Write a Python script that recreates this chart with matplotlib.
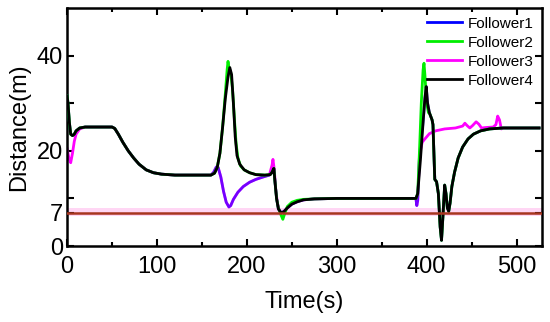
import matplotlib
matplotlib.use('Agg')
import matplotlib.pyplot as plt
import numpy as np

plt.rcParams['font.family'] = ['Liberation Sans', 'DejaVu Sans']

# Follower4 (black), reference curve
t4 = [0, 1, 2.5, 4, 6, 8, 10, 14, 20, 30, 40, 50, 53, 57, 62, 68, 74, 80, 88, 96, 105,
      120, 140, 160, 164, 167, 170, 173, 176, 179, 181, 183, 185, 187, 189, 192, 197,
      203, 210, 220, 226, 228, 230, 231, 233, 235, 238, 241, 245, 250, 256, 263, 275,
      300, 350, 388, 390, 393, 396, 398, 399.5, 401, 403, 406, 407, 409, 411, 413, 415,
      416.5, 418, 420, 421.5, 423, 424.5, 426, 428, 431, 435, 440, 446, 452, 460, 470,
      485, 525]
d4 = [31.5, 30, 26, 23.5, 23.2, 23.5, 24.2, 24.8, 25, 25, 25, 25, 24.7, 23.5, 21.8, 20,
      18.5, 17.2, 16, 15.4, 15.1, 14.9, 14.9, 14.9, 15.3, 16.5, 19.5, 25, 31, 35.5, 37.5,
      36, 30, 23, 19, 17.2, 16, 15.4, 15, 14.9, 15, 15.5, 16.3, 14, 10, 7.8, 7, 7.2, 8,
      8.8, 9.3, 9.7, 9.9, 10, 10, 10, 11, 18, 26, 31, 33.5, 30, 28, 26.5, 25.5, 14, 13.5,
      11, 4, 1.2, 6, 12.8, 11, 8, 7.3, 9, 12.5, 15.5, 18.5, 20.8, 22.5, 23.5, 24.2, 24.6,
      24.8, 24.8]

# Follower3 (magenta)
t3 = [0, 2, 4, 6, 8, 10, 14, 20, 30, 40, 50, 53, 57, 62, 68, 74, 80, 88, 96, 105, 120,
      140, 160, 163, 166, 168, 171, 174, 177, 180, 182, 185, 190, 196, 203, 210, 218, 225,
      228, 229, 230.5, 232, 234, 236, 238, 241, 245, 250, 256, 263, 275, 300, 350, 388,
      389, 390, 392, 395, 398, 403, 410, 420, 432, 440, 442.5, 445, 448, 451, 455, 458,
      461, 466, 474, 477, 479, 481, 483, 485, 525]
d3 = [20.5, 18.5, 17.5, 19.5, 22, 23.5, 24.6, 25, 25, 25, 25, 24.7, 23.5, 21.8, 20, 18.5,
      17.2, 16, 15.4, 15.1, 14.9, 14.9, 14.9, 15.5, 16.6, 16.5, 14.5, 11.5, 9.2, 8.2, 8.5,
      9.8, 11.3, 12.5, 13.4, 14, 14.5, 14.9, 17, 18.2, 16, 12, 9, 7.5, 7, 7.2, 8, 8.8,
      9.3, 9.7, 9.9, 10, 10, 10, 8.5, 9.5, 19, 21.8, 22.5, 23.6, 24.2, 24.6, 24.8, 25.2,
      25.8, 25.3, 24.8, 25.3, 26.1, 25.6, 24.8, 24.9, 25, 25.5, 27.3, 26.5, 24.6, 24.8,
      24.8]

# Follower2 (green)
t2 = [0, 1, 2.5, 4, 6, 8, 10, 14, 20, 30, 40, 50, 53, 57, 62, 68, 74, 80, 88, 96, 105,
      120, 140, 160, 164, 167, 170, 173, 176, 178, 179, 180, 182, 184, 186, 188, 190, 193,
      197, 203, 210, 220, 226, 228, 230, 231, 233, 235, 238, 240, 242, 245, 250, 256, 263,
      275, 300, 350, 388, 390, 392, 394, 396, 397, 398, 400, 402, 403, 406, 407, 409, 411,
      413, 415, 416.5, 418, 420, 421.5, 423, 424.5, 426, 428, 431, 435, 440, 446, 452,
      460, 470, 485, 525]
d2 = [31.5, 30, 26, 23.5, 23.2, 23.5, 24.2, 24.8, 25, 25, 25, 25, 24.7, 23.5, 21.8, 20,
      18.5, 17.2, 16, 15.4, 15.1, 14.9, 14.9, 14.9, 15.3, 16.5, 19.5, 25, 32, 37, 38.8,
      37.5, 36.5, 33, 27, 21.5, 18.5, 16.8, 16, 15.4, 15, 14.9, 15, 15.5, 16.3, 14, 10, 8,
      6.5, 5.6, 6.8, 8.3, 9.2, 9.6, 9.8, 9.9, 10, 10, 10, 11, 20, 30, 37, 38.4, 36, 30, 28,
      28, 26.5, 25.5, 14, 13.5, 11, 4, 1.2, 6, 12.8, 11, 8, 7.3, 9, 12.5, 15.5, 18.5, 20.8,
      22.5, 23.5, 24.2, 24.6, 24.8, 24.8]

# Follower1 (blue), mostly hidden under the others
t1 = [0, 1, 2.5, 4, 6, 8, 10, 14, 20, 30, 40, 50, 53, 57, 62, 68, 74, 80, 88, 96, 105,
      120, 140, 160, 163, 166, 168, 171, 174, 177, 180, 182, 185, 190, 196, 203, 210, 218,
      225, 228, 230, 231, 233, 235, 238, 241, 245, 250, 256, 263, 275, 300, 350, 388, 389,
      390, 392, 396, 398, 399.5, 401, 403, 406, 407, 409, 411, 413, 415, 416.5, 418, 420,
      421.5, 423, 424.5, 426, 428, 431, 435, 440, 446, 452, 460, 470, 485, 525]
d1 = [31.5, 30, 26, 23.5, 23.2, 23.5, 24.2, 24.8, 25, 25, 25, 25, 24.7, 23.5, 21.8, 20,
      18.5, 17.2, 16, 15.4, 15.1, 14.9, 14.9, 14.9, 15.5, 16.6, 16.5, 14.5, 11.5, 9.2, 8.2,
      8.5, 9.8, 11.3, 12.5, 13.4, 14, 14.5, 14.9, 15.5, 16.3, 14, 10, 7.8, 7, 7.2, 8, 8.8,
      9.3, 9.7, 9.9, 10, 10, 10, 8.5, 9.5, 19, 26, 31, 33.5, 30, 28, 26.5, 25.5, 14, 13.5,
      11, 4, 1.2, 6, 12.8, 11, 8, 7.3, 9, 12.5, 15.5, 18.5, 20.8, 22.5, 23.5, 24.2, 24.6,
      24.8, 24.8]

safe_dist = 7

fig = plt.figure(figsize=(5.5, 3.22), dpi=100)
ax = fig.add_axes([0.122, 0.236, 0.863, 0.739])

ax.axhspan(6.3, 7.9, color='#ffd6f4', zorder=1, lw=0)
ax.plot(t3, d3, color='#ff00ff', lw=2, zorder=2)
ax.plot(t1, d1, color='#0000ff', lw=2, alpha=0.55, zorder=3)
ax.plot(t2, d2, color='#00ee00', lw=2, zorder=4)
ax.plot(t4, d4, color='black', lw=2, zorder=5)
ax.axhline(safe_dist, color='#a8351f', lw=1.8, zorder=6)

# legend in the original order
h1, = ax.plot([], [], color='#0000ff', lw=2)
h2, = ax.plot([], [], color='#00ee00', lw=2)
h3, = ax.plot([], [], color='#ff00ff', lw=2)
h4, = ax.plot([], [], color='black', lw=2)
ax.legend([h1, h2, h3, h4], ['Follower1', 'Follower2', 'Follower3', 'Follower4'],
          loc='upper right', frameon=False, fontsize=11, handlelength=2.3,
          labelspacing=0.33, borderaxespad=0.0, handletextpad=0.35,
          bbox_to_anchor=(0.995, 0.99))

ax.set_xlim(0, 528)
ax.set_ylim(0, 50)
ax.set_xticks([0, 100, 200, 300, 400, 500])
ax.set_xticks([50, 150, 250, 350, 450], minor=True)
ax.set_yticks([0, 7, 10, 20, 30, 40])
ax.set_yticklabels(['0', '7', '', '20', '', '40'])
ax.tick_params(which='both', direction='in', top=True, right=True, width=1.5,
               labelsize=17)
ax.tick_params(axis='x', which='both', pad=7.5)
ax.tick_params(axis='y', which='both', pad=3)
ax.tick_params(which='major', length=5)
ax.tick_params(which='minor', length=3)
for s in ax.spines.values():
    s.set_linewidth(1.8)

ax.set_xlabel('Time(s)', fontsize=17, labelpad=9)
ax.set_ylabel('Distance(m)', fontsize=17, labelpad=5)

fig.savefig('out.png', dpi=100)
